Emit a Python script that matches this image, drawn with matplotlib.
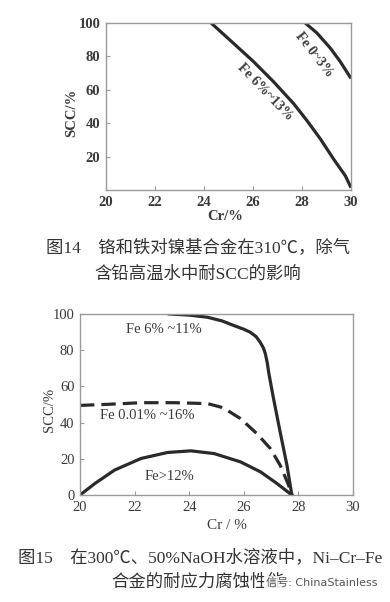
import numpy as np
import matplotlib.pyplot as plt

plt.rcParams['font.family'] = ['Liberation Serif', 'Noto Sans CJK SC', 'DejaVu Sans']

# Fig 14: Cr (%) vs SCC (%), lead-containing high-temperature water at 310 C
cr_fe6_13 = [24.29, 25.2, 26.02, 26.84, 27.66, 28.2, 28.75, 29.29, 29.77, 30.0]
scc_fe6_13 = [100, 87.9, 76.9, 64.8, 51.7, 41.6, 30.6, 18.5, 8.5, 1.4]
cr_fe0_3 = [28.13, 28.61, 29.16, 29.56, 30.0]
scc_fe0_3 = [100, 94, 84.9, 76.9, 66.8]

# Fig 15: 300 C, 50% NaOH solution
cr_fe6_11 = [23.27, 24.0, 24.67, 25.2, 25.64, 26.0, 26.24, 26.45, 26.6, 26.72, 26.79, 26.86,
             26.91, 27.0, 27.09, 27.33, 27.58, 27.76]
scc_fe6_11 = [100, 99.4, 98.2, 96.2, 93.6, 91.6, 89.9, 87.5, 84.4, 81.2, 78, 73,
              67.9, 60.5, 53.2, 34.9, 16.5, 0]
cr_fe001_16 = [20.0, 21.03, 22.24, 23.45, 24.67, 25.15, 25.5, 25.88, 26.48, 26.97, 27.33, 27.64, 27.76]
scc_fe001_16 = [49.5, 50.1, 51, 51, 50.5, 48.6, 45.8, 42.2, 33.9, 25.7, 16.5, 5.5, 0]
cr_fe12 = [20.0, 20.55, 21.27, 22.24, 23.21, 24.06, 24.91, 25.88, 26.61, 27.21, 27.76]
scc_fe12 = [0, 6.4, 13.8, 20.2, 23.5, 24.4, 22.9, 18.3, 12.8, 6.4, 0]

xticks = [20, 22, 24, 26, 28, 30]
yticks_top = [20, 40, 60, 80, 100]
yticks_bot = [0, 20, 40, 60, 80, 100]

fig = plt.figure(figsize=(3.9, 6.02), dpi=100)
ax1 = fig.add_axes([106 / 390, 1 - 190 / 602, 245 / 390, 167 / 602])
ax2 = fig.add_axes([80 / 390, 1 - 495 / 602, 273 / 390, 181 / 602])

line_col = '#2a2a2a'
text_col = '#3a3a3a'

for ax in (ax1, ax2):
    ax.set_xlim(20, 30)
    ax.set_ylim(0, 100)
    ax.set_xticks(xticks)
    for s in ax.spines.values():
        s.set_color('#9a9a9a')
        s.set_linewidth(1)
    ax.tick_params(direction='in', length=3, color='#9a9a9a', labelcolor=text_col,
                   labelsize=10.5, pad=4)

# top chart
ax1.set_yticks(yticks_top)
for lab in ax1.get_xticklabels() + ax1.get_yticklabels():
    lab.set_fontweight('bold')
ax1.plot(cr_fe6_13, scc_fe6_13, color=line_col, lw=2.3, solid_capstyle='butt')
ax1.plot(cr_fe0_3, scc_fe0_3, color=line_col, lw=2.3, solid_capstyle='butt')
ax1.text(28.5, 81.3, 'Fe 0~3%', rotation=-52, ha='center', va='center',
         fontsize=10, fontweight='bold', color=text_col, rotation_mode='anchor')
ax1.text(26.5, 58.8, 'Fe 6%~13%', rotation=-46, ha='center', va='center',
         fontsize=10, fontweight='bold', color=text_col, rotation_mode='anchor')
ax1.text(-0.139, 0.46, 'SCC/%', rotation=90, transform=ax1.transAxes,
         ha='center', va='center', fontsize=10.5, fontweight='bold', color=text_col)
ax1.text(0.486, -0.16, 'Cr/%', transform=ax1.transAxes,
         ha='center', va='center', fontsize=10.5, fontweight='bold', color=text_col)

# bottom chart
ax2.set_yticks(yticks_bot)
ax2.plot(cr_fe6_11, scc_fe6_11, color=line_col, lw=2.3)
ax2.plot(cr_fe001_16, scc_fe001_16, color=line_col, lw=2.3, ls=(0, (4.5, 2.2)))
ax2.plot(cr_fe12, scc_fe12, color=line_col, lw=2.3)
ax2.text(23.09, 91.7, 'Fe 6% ~11%', ha='center', va='center', fontsize=10.5, color=text_col)
ax2.text(22.48, 44, 'Fe 0.01% ~16%', ha='center', va='center', fontsize=10.5, color=text_col)
ax2.text(23.27, 10, 'Fe>12%', ha='center', va='center', fontsize=10.5, color=text_col)
ax2.text(-0.11, 0.47, 'SCC/%', rotation=90, transform=ax2.transAxes,
         ha='center', va='center', fontsize=10.5, color=text_col)
ax2.text(0.54, -0.167, 'Cr / %', transform=ax2.transAxes,
         ha='center', va='center', fontsize=11, color=text_col)

# captions
cap = dict(ha='center', va='center', fontsize=12.5, color='#333333')
fig.text(198 / 390, 1 - 248 / 602, '图14　铬和铁对镍基合金在310℃，除气', **cap)
fig.text(198 / 390, 1 - 275 / 602, '含铅高温水中耐SCC的影响', **cap)
fig.text(200 / 390, 1 - 558 / 602, '图15　在300℃、50%NaOH水溶液中，Ni–Cr–Fe', **cap)
fig.text(198 / 390, 1 - 583 / 602, '合金的耐应力腐蚀性能', **cap)
fig.text(378 / 390, 1 - 583 / 602, '信号: ChinaStainless', ha='right', va='center',
         fontsize=8, color='#555555', family=['DejaVu Sans', 'Noto Sans CJK SC'],
         bbox=dict(facecolor='white', edgecolor='none', alpha=0.85, pad=1.5))

fig.savefig('out.png', dpi=100)
